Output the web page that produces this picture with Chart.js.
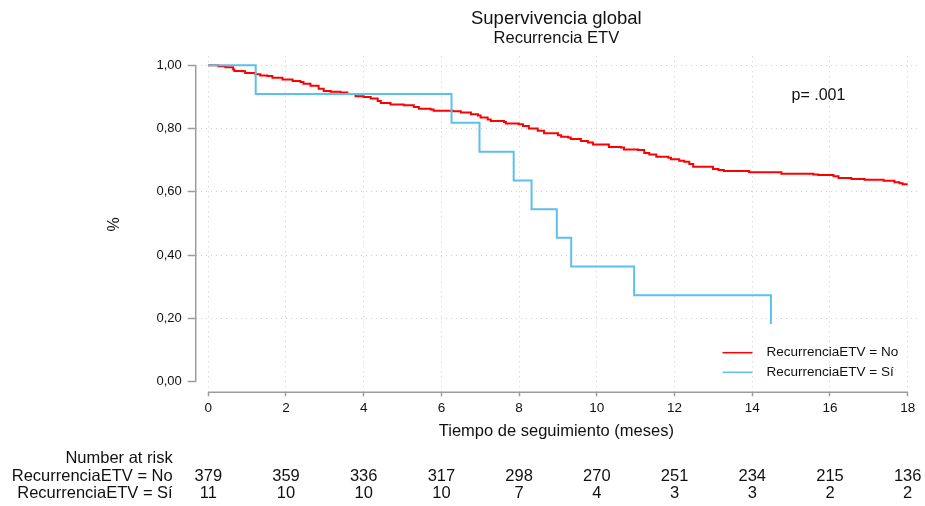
<!DOCTYPE html>
<html>
<head>
<meta charset="utf-8">
<title>Supervivencia global</title>
<script src="https://cdn.jsdelivr.net/npm/chart.js@4.4.1/dist/chart.umd.min.js"></script>
<style>
  html, body { margin: 0; padding: 0; background: #fff; }
</style>
</head>
<body>
<canvas id="km" width="925" height="506"></canvas>
<script>
// Kaplan-Meier estimates (time in months, survival 0-1)
var noTime = [0, 0.26, 0.44, 0.64, 0.67, 0.90, 0.95, 1.21, 1.34, 1.52, 1.65, 1.91, 2.17, 2.37, 2.45, 2.63, 2.84, 2.97, 3.15, 3.40,
  3.58, 3.79, 4.00, 4.18, 4.36, 4.44, 4.69, 5.03, 5.29, 5.42, 5.72, 5.80, 6.29, 6.50, 6.76, 6.94, 7.01, 7.19, 7.27, 7.61,
  7.66, 7.99, 8.10, 8.25, 8.48, 8.64, 9.00, 9.08, 9.26, 9.33, 9.59, 9.77, 9.90, 10.31, 10.62, 10.70, 11.06, 11.22, 11.35, 11.53,
  11.84, 11.91, 12.12, 12.25, 12.38, 12.48, 12.99, 13.13, 13.27, 13.92, 14.75, 15.57, 15.70, 16.09, 16.22, 16.55, 16.89, 17.38, 17.66, 17.79,
  17.87, 18.0];
var noSurv = [1.000, 0.997, 0.994, 0.987, 0.982, 0.981, 0.976, 0.972, 0.968, 0.966, 0.961, 0.955, 0.950, 0.947, 0.942, 0.935, 0.926, 0.919, 0.916, 0.914,
  0.909, 0.902, 0.900, 0.895, 0.887, 0.881, 0.876, 0.874, 0.868, 0.863, 0.860, 0.856, 0.855, 0.851, 0.845, 0.841, 0.835, 0.829, 0.824, 0.821,
  0.816, 0.814, 0.808, 0.800, 0.793, 0.785, 0.779, 0.774, 0.772, 0.767, 0.761, 0.756, 0.750, 0.742, 0.740, 0.734, 0.732, 0.723, 0.718, 0.711,
  0.708, 0.703, 0.698, 0.695, 0.688, 0.679, 0.672, 0.669, 0.666, 0.662, 0.657, 0.655, 0.653, 0.649, 0.644, 0.641, 0.638, 0.635, 0.630, 0.627,
  0.624, 0.624];

var siTime = [0, 1.22, 6.26, 6.98, 7.86, 8.32, 8.97, 9.34, 10.96, 14.48];
var siSurv = [1.000, 0.909, 0.818, 0.727, 0.636, 0.545, 0.455, 0.364, 0.273, 0.182];

var groupLabels = ["RecurrenciaETV = No", "RecurrenciaETV = S\u00ed"];
var xTicks = [0, 2, 4, 6, 8, 10, 12, 14, 16, 18];
var yTicks = [0, 0.2, 0.4, 0.6, 0.8, 1.0];

// number at risk at each x tick
var riskNo = [379, 359, 336, 317, 298, 270, 251, 234, 215, 136];
var riskSi = [11, 10, 10, 10, 7, 4, 3, 3, 2, 2];

var pText = "p= .001";

var FONT = '"Liberation Sans", Arial, Helvetica, sans-serif';
var RED = '#ff0000';
var BLUE = '#5cc0ec';
var AXIS = '#9c9c9c';
var TEXT = '#111111';

Chart.defaults.font.family = FONT;
Chart.defaults.color = TEXT;

function toPoints(xs, ys) {
  return xs.map(function (t, i) { return { x: t, y: ys[i] }; });
}

// axis lines, legend, annotations and the risk table
var extras = {
  id: 'extras',
  afterDraw: function (chart) {
    var ctx = chart.ctx;
    var a = chart.chartArea;
    var x = chart.scales.x, y = chart.scales.y;
    var mid = (a.left + a.right) / 2;
    ctx.save();

    // stata-like detached axes
    ctx.strokeStyle = AXIS;
    ctx.lineWidth = 1.5;
    ctx.beginPath();
    ctx.moveTo(a.left, y.getPixelForValue(yTicks[0]));
    ctx.lineTo(a.left, y.getPixelForValue(yTicks[yTicks.length - 1]));
    ctx.moveTo(x.getPixelForValue(xTicks[0]), a.bottom);
    ctx.lineTo(x.getPixelForValue(xTicks[xTicks.length - 1]), a.bottom);
    ctx.stroke();

    ctx.fillStyle = TEXT;
    ctx.textBaseline = 'middle';

    // titles
    ctx.textAlign = 'center';
    ctx.font = '18.5px ' + FONT;
    ctx.fillText('Supervivencia global', mid, 18.5);
    ctx.font = '16.5px ' + FONT;
    ctx.fillText('Recurrencia ETV', mid, 38.5);

    // p value
    ctx.textAlign = 'left';
    ctx.font = '16px ' + FONT;
    ctx.fillText(pText, 791.5, 95.5);

    // legend
    var colors = [RED, BLUE];
    var legY = [352.7, 372.3];
    ctx.font = '13.5px ' + FONT;
    for (var i = 0; i < 2; i++) {
      ctx.strokeStyle = colors[i];
      ctx.lineWidth = 1.5;
      ctx.beginPath();
      ctx.moveTo(722.5, legY[i]);
      ctx.lineTo(752.5, legY[i]);
      ctx.stroke();
      ctx.fillStyle = TEXT;
      ctx.fillText(groupLabels[i], 766.5, legY[i]);
    }

    // number at risk table
    ctx.font = '16.5px ' + FONT;
    ctx.textAlign = 'right';
    ctx.fillText('Number at risk', 172.7, 458.5);
    ctx.fillText(groupLabels[0], 172.7, 476.3);
    ctx.fillText(groupLabels[1], 172.7, 493.6);
    ctx.textAlign = 'center';
    xTicks.forEach(function (t, i) {
      var px = x.getPixelForValue(t);
      ctx.fillText(String(riskNo[i]), px, 476.3);
      ctx.fillText(String(riskSi[i]), px, 493.6);
    });
    ctx.restore();
  }
};

new Chart(document.getElementById('km'), {
  type: 'line',
  data: {
    datasets: [
      {
        label: groupLabels[1],
        data: toPoints(siTime, siSurv),
        borderColor: BLUE,
        backgroundColor: BLUE,
        borderWidth: 2,
        stepped: true,
        pointRadius: 0,
        fill: false
      },
      {
        label: groupLabels[0],
        data: toPoints(noTime, noSurv),
        borderColor: RED,
        backgroundColor: RED,
        borderWidth: 2,
        stepped: true,
        pointRadius: 0,
        fill: false
      }
    ]
  },
  options: {
    responsive: false,
    animation: false,
    devicePixelRatio: 1,
    layout: { padding: { top: 56.3, right: 8, bottom: 64.4, left: 0 } },
    plugins: {
      legend: { display: false },
      tooltip: { enabled: false }
    },
    scales: {
      x: {
        type: 'linear',
        min: -0.324,
        max: 18.24,
        afterBuildTicks: function (s) { s.ticks = xTicks.map(function (v) { return { value: v }; }); },
        afterFit: function (s) { s.height = 49.3; },
        grid: {
          color: '#cfcfcf',
          lineWidth: 1,
          tickLength: 4,
          tickColor: AXIS,
          tickWidth: 1.5
        },
        border: { display: false, dash: [1, 4] },
        ticks: {
          padding: 4,
          maxRotation: 0,
          autoSkip: false,
          font: { size: 13.5 },
          color: TEXT,
          callback: function (v) { return String(v); }
        },
        title: {
          display: true,
          text: 'Tiempo de seguimiento (meses)',
          font: { size: 16.5 },
          color: TEXT,
          padding: { top: 0, bottom: 0 }
        }
      },
      y: {
        min: -0.0335,
        max: 1.0284,
        afterBuildTicks: function (s) { s.ticks = yTicks.map(function (v) { return { value: v }; }); },
        afterFit: function (s) { s.width = 195.7; },
        grid: {
          color: function (c) { return c.tick && c.tick.value === 0 ? 'rgba(0,0,0,0)' : '#cfcfcf'; },
          lineWidth: 1,
          tickLength: 8,
          tickColor: AXIS,
          tickWidth: 1.5
        },
        border: { display: false, dash: [1, 4] },
        ticks: {
          padding: 6,
          autoSkip: false,
          font: { size: 13 },
          color: TEXT,
          callback: function (v) { return Number(v).toFixed(2).replace('.', ','); }
        },
        title: {
          display: true,
          text: '%',
          font: { size: 16 },
          color: TEXT,
          padding: { top: 105.4, bottom: 0 }
        }
      }
    }
  },
  plugins: [extras]
});
</script>
</body>
</html>
